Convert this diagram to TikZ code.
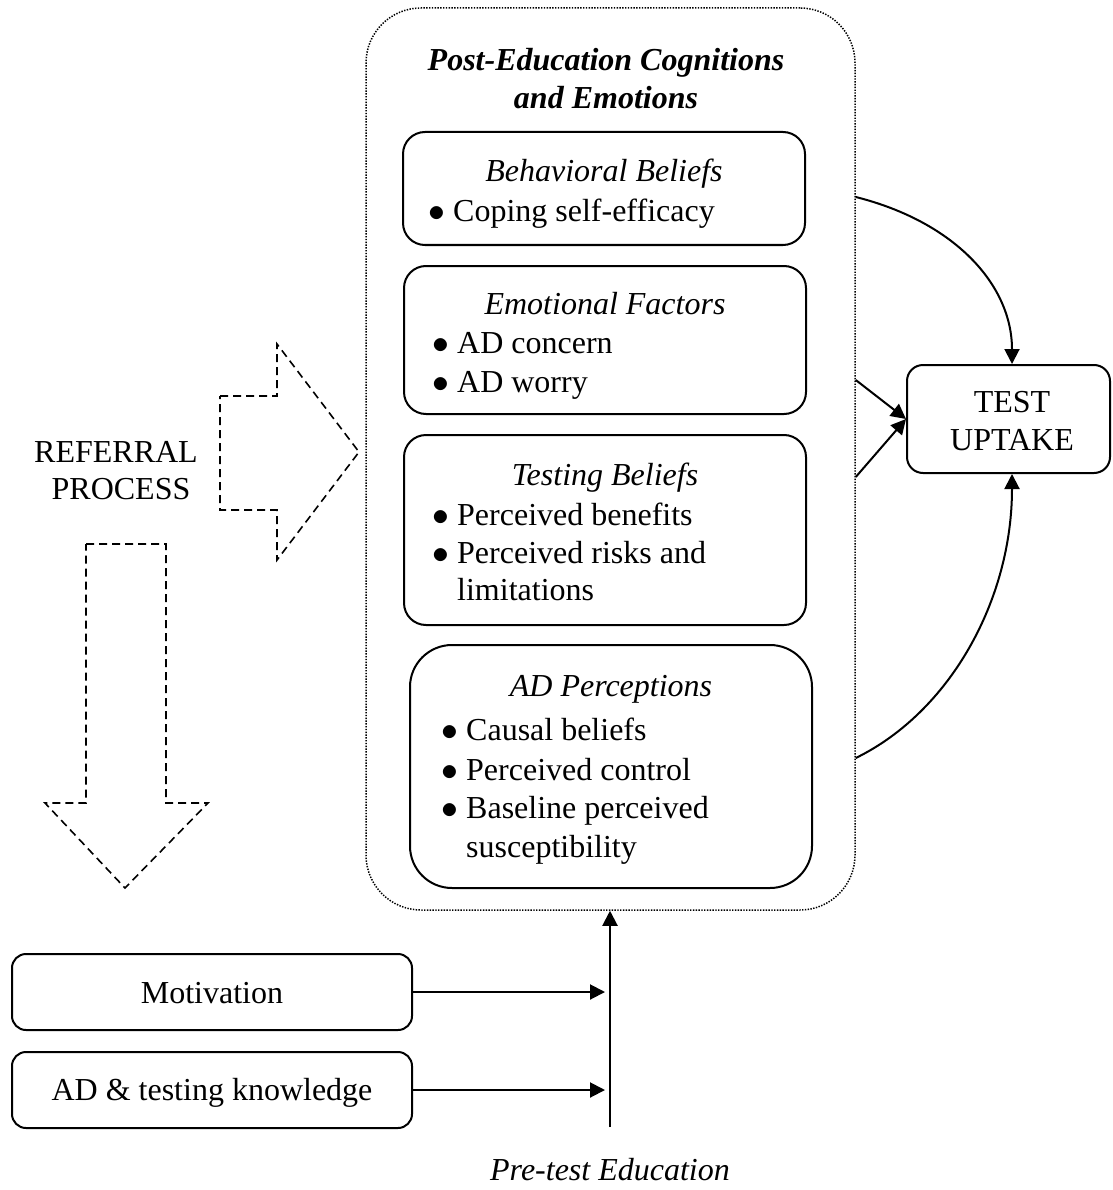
\documentclass[tikz,border=0pt]{standalone}
\usepackage{fontspec}
\setmainfont{Liberation Serif}
\usetikzlibrary{arrows.meta}
\newcommand{\bul}{\makebox[25pt][l]{\scalebox{1.35}{$\bullet$}}}
\begin{document}
\begin{tikzpicture}[x=1pt,y=-1pt,
  box/.style={draw, line width=2pt, inner sep=0pt},
  txt/.style={font=\fontsize{32}{38}\selectfont, inner sep=0pt},
  itx/.style={font=\fontsize{32}{38}\selectfont\itshape, inner sep=0pt},
  arr/.style={line width=2pt, -{Triangle[length=15pt,width=15pt]}},
  dsh/.style={line width=1.6pt, dash pattern=on 8pt off 5pt},
]
\useasboundingbox (0,0) rectangle (1112,1190);

% outer dotted container
\node[draw, line width=1.5pt, dash pattern=on 1.4pt off 1.4pt, rounded corners=55pt,
      minimum width=489pt, minimum height=902pt, inner sep=0pt] (outer) at (610.5,459) {};

\node[txt, font=\fontsize{32}{38}\selectfont\bfseries\itshape, anchor=base] (t1) at (606,71) {Post-Education Cognitions};
\node[txt, font=\fontsize{32}{38}\selectfont\bfseries\itshape, anchor=base] (t2) at (606,109) {and Emotions};

% Behavioral Beliefs
\node[box, rounded corners=22pt, minimum width=402pt, minimum height=113pt] (bb) at (604,188.5) {};
\node[itx, anchor=base] (bbh) at (604,182) {Behavioral Beliefs};
\node[txt, anchor=base west] (bb1) at (428,222) {\bul Coping self-efficacy};

% Emotional Factors
\node[box, rounded corners=22pt, minimum width=402pt, minimum height=148pt] (ef) at (605,340) {};
\node[itx, anchor=base] (efh) at (605,314) {Emotional Factors};
\node[txt, anchor=base west] (ef1) at (432,353) {\bul AD concern};
\node[txt, anchor=base west] (ef2) at (432,392) {\bul AD worry};

% Testing Beliefs
\node[box, rounded corners=22pt, minimum width=402pt, minimum height=190pt] (tb) at (605,530) {};
\node[itx, anchor=base] (tbh) at (605,485) {Testing Beliefs};
\node[txt, anchor=base west] (tb1) at (432,525) {\bul Perceived benefits};
\node[txt, anchor=base west] (tb2) at (432,563) {\bul Perceived risks and};
\node[txt, anchor=base west] (tb3) at (457,600) {limitations};

% AD Perceptions
\node[box, rounded corners=42pt, minimum width=402pt, minimum height=243pt] (ap) at (611,766.5) {};
\node[itx, anchor=base] (aph) at (611,696) {AD Perceptions};
\node[txt, anchor=base west] (ap1) at (441,740) {\bul Causal beliefs};
\node[txt, anchor=base west] (ap2) at (441,780) {\bul Perceived control};
\node[txt, anchor=base west] (ap3) at (441,818) {\bul Baseline perceived};
\node[txt, anchor=base west] (ap4) at (466,857) {susceptibility};

% TEST UPTAKE
\node[box, rounded corners=16pt, minimum width=203pt, minimum height=108pt] (up) at (1008.5,419) {};
\node[txt, anchor=base] (up1) at (1012,412) {TEST};
\node[txt, anchor=base] (up2) at (1012,450) {UPTAKE};

% Referral process
\node[txt, anchor=base] (ref1) at (116,462) {REFERRAL};
\node[txt, anchor=base] (ref2) at (121,499) {PROCESS};

\draw[dsh] (220,396) -- (277,396) -- (277,344) -- (359,452) -- (277,560) -- (277,510) -- (220,510) -- cycle;
\draw[dsh] (86,544) -- (166,544) -- (166,803) -- (208,803) -- (125,888) -- (45,803) -- (86,803) -- cycle;

% left boxes
\node[box, rounded corners=14pt, minimum width=400pt, minimum height=76pt] (mot) at (212,992) {};
\node[txt, anchor=base] (motT) at (212,1003) {Motivation};
\node[box, rounded corners=14pt, minimum width=400pt, minimum height=76pt] (kn) at (212,1090) {};
\node[txt, anchor=base] (knT) at (212,1100) {AD \& testing knowledge};

\node[itx, anchor=base] (pre) at (610,1180) {Pre-test Education};

% connectors
\coordinate (pb) at (610,1127);
\draw[arr] (pb) -- (outer.south -| pb);
\coordinate (m1) at (605,992);
\coordinate (k1) at (605,1090);
\draw[arr] (mot.east) -- (m1);
\draw[arr] (kn.east) -- (k1);

\coordinate (s1) at (outer.east |- 0,197);
\coordinate (s2) at (outer.east |- 0,380);
\coordinate (s3) at (outer.east |- 0,477);
\coordinate (s4) at (outer.east |- 0,758);
\draw[arr] (s1) .. controls (955,222) and (1012,285) .. (up.north -| 1012,0);
\draw[arr] (s2) -- (up.west);
\draw[arr] (s3) -- (up.west);
\draw[arr] (s4) .. controls (950,712) and (1012,600) .. (up.south -| 1012,0);
\end{tikzpicture}
\end{document}
